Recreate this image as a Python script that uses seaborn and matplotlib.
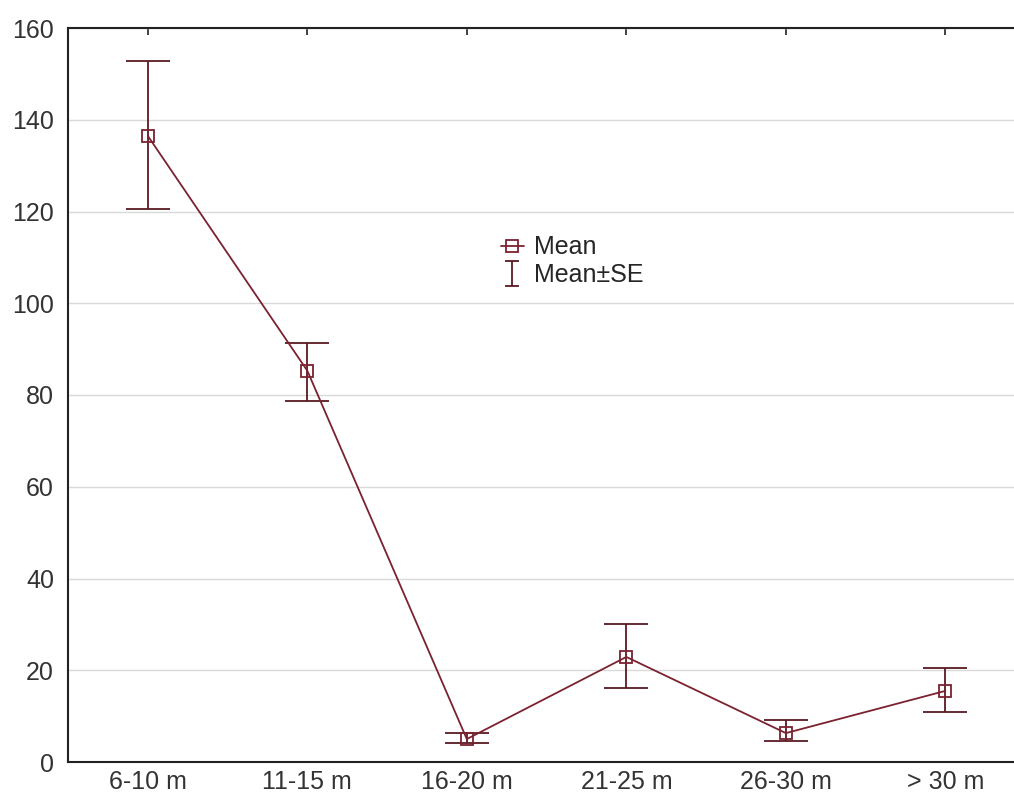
import pandas as pd
import matplotlib
matplotlib.use("Agg")
import matplotlib.pyplot as plt
import seaborn as sns

depths = ["6-10 m", "11-15 m", "16-20 m", "21-25 m", "26-30 m", "> 30 m"]
means = [136.5, 85.3, 5.0, 22.9, 6.3, 15.5]
upper = [152.8, 91.4, 6.3, 30.0, 9.1, 20.5]
lower = [120.6, 78.8, 4.1, 16.1, 4.6, 10.9]

df = pd.DataFrame({"depth": depths, "mean": means, "upper": upper, "lower": lower})

sns.set_style("white")
plt.rcParams["font.family"] = ["Liberation Sans", "DejaVu Sans"]

line_col = "#7b2230"
bar_col = "#5a1a22"

fig = plt.figure(figsize=(10.14, 8.01), dpi=100)
ax = fig.add_axes([68 / 1014, 39 / 801, 946 / 1014, 734 / 801])

sns.lineplot(
    data=df, x="depth", y="mean", ax=ax,
    color=line_col, linewidth=1.3, sort=False,
    marker="s", markersize=9, markerfacecolor="none",
    markeredgecolor=line_col, markeredgewidth=1.3,
    label="Mean", zorder=3
)

ax.errorbar(
    df["depth"], df["mean"],
    yerr=[df["mean"] - df["lower"], df["upper"] - df["mean"]],
    fmt="none", ecolor=bar_col, elinewidth=1.3,
    capsize=16, capthick=1.3, zorder=2
)

# legend proxy with narrow caps (drawn below the visible range)
ax.errorbar([depths[0]], [-100], yerr=[1], fmt="none", ecolor=bar_col,
            elinewidth=1.3, capsize=5, capthick=1.3, label="Mean\u00b1SE")

ax.set_xlim(-0.5, 5.43)
ax.set_ylim(0, 160)
ax.set_yticks(range(0, 161, 20))
ax.yaxis.grid(True, color="#d9d9d9", linewidth=1)
ax.xaxis.grid(False)
ax.set_axisbelow(True)
ax.set_xlabel("")
ax.set_ylabel("")

for side in ["left", "bottom", "top"]:
    ax.spines[side].set_color("#222222")
    ax.spines[side].set_linewidth(1.5)
ax.spines["right"].set_visible(False)

ax.tick_params(axis="both", direction="in", length=5, width=1.2,
               labelsize=18, colors="#222222", labelcolor="#333333")
ax.tick_params(axis="x", top=True, pad=6)
ax.tick_params(axis="y", pad=10)

ax.legend(loc="upper left", bbox_to_anchor=(0.434, 0.748), frameon=False,
          fontsize=18, handlelength=0.9, handletextpad=0.4, labelspacing=0.15)

plt.savefig("out.png", dpi=100)
plt.close()
